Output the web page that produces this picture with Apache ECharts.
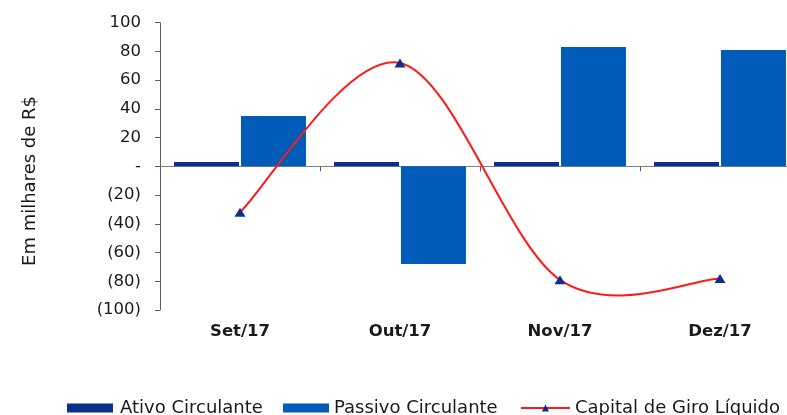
<!DOCTYPE html>
<html>
<head>
<meta charset="utf-8">
<script src="https://cdn.jsdelivr.net/npm/echarts@6/dist/echarts.min.js"></script>
<style>
html,body{margin:0;padding:0;background:#fff;}
#chart{width:787px;height:415px;}
</style>
</head>
<body>
<div id="chart"></div>
<script>
var categories = ['Set/17', 'Out/17', 'Nov/17', 'Dez/17'];
var ativoCirculante = [3, 3, 3, 3];
var passivoCirculante = [35, -68, 83, 81];
var capitalGiroLiquido = [-32, 72, -79, -78];
var seriesNames = ['Ativo Circulante', 'Passivo Circulante', 'Capital de Giro Líquido'];
var yAxisTitle = 'Em milhares de R$';

var FONT = 'DejaVu Sans';
var RED = '#ff1a1a';
var chart = echarts.init(document.getElementById('chart'), null, {renderer: 'canvas'});

function fmt(v) {
  if (v === 0) return '-';
  if (v < 0) return '(' + Math.abs(v) + ')';
  return String(v);
}

// Excel-like smoothed line (Catmull-Rom bezier), positions from the library's scales
function renderSmooth(params, api) {
  var pts = capitalGiroLiquido.map(function (v, i) { return api.coord([i, v]); });
  var n = pts.length;
  var d = 'M' + pts[0][0] + ' ' + pts[0][1];
  for (var i = 0; i < n - 1; i++) {
    var p0 = pts[i - 1] || pts[i];
    var p1 = pts[i];
    var p2 = pts[i + 1];
    var p3 = pts[i + 2] || pts[i + 1];
    var c1x = p1[0] + (p2[0] - p0[0]) / 6, c1y = p1[1] + (p2[1] - p0[1]) / 6;
    var c2x = p2[0] - (p3[0] - p1[0]) / 6, c2y = p2[1] - (p3[1] - p1[1]) / 6;
    d += ' C' + c1x + ' ' + c1y + ' ' + c2x + ' ' + c2y + ' ' + p2[0] + ' ' + p2[1];
  }
  return {
    type: 'path',
    shape: {pathData: d},
    style: {fill: null, stroke: RED, lineWidth: 2}
  };
}

function legendAt(left, itemWidth, item, gapPad) {
  return {
    left: left, top: 394,
    itemWidth: itemWidth, itemHeight: 9,
    selectedMode: false,
    textStyle: {fontFamily: FONT, fontSize: 18, color: '#1a1a1a', padding: [0, 0, 0, gapPad]},
    data: [item]
  };
}

chart.setOption({
  animation: false,
  backgroundColor: '#ffffff',
  textStyle: {fontFamily: FONT},
  grid: {left: 160, right: -13, top: 22.7, bottom: 105, containLabel: false, outerBoundsMode: 'none'},
  legend: [
    legendAt(62, 46, {name: seriesNames[0], icon: 'rect'}, 2),
    legendAt(278, 46, {name: seriesNames[1], icon: 'rect'}, 0),
    legendAt(515, 49, {name: seriesNames[2], lineStyle: {color: RED, width: 2, opacity: 1}}, 0)
  ],
  graphic: [{
    type: 'text',
    x: 30, y: 181,
    rotation: Math.PI / 2,
    style: {
      text: yAxisTitle,
      font: '18px "DejaVu Sans"',
      fill: '#1a1a1a',
      align: 'center',
      verticalAlign: 'middle'
    }
  }],
  xAxis: [{
    type: 'category',
    data: categories,
    position: 'bottom',
    axisLine: {show: false, onZero: false},
    axisTick: {show: false},
    axisLabel: {fontFamily: FONT, fontSize: 16.5, fontWeight: 'bold', color: '#1a1a1a', margin: 13}
  }, {
    type: 'category',
    data: categories,
    position: 'top',
    axisLine: {show: true, onZero: true, lineStyle: {color: '#808080', width: 1}},
    axisTick: {show: true, inside: true, length: 5, lineStyle: {color: '#606060'}},
    axisLabel: {show: false}
  }],
  yAxis: {
    type: 'value',
    min: -100, max: 100, interval: 20,
    axisLine: {show: true, lineStyle: {color: '#606060', width: 1}},
    axisTick: {show: true, length: 5, lineStyle: {color: '#606060'}},
    splitLine: {show: false},
    axisLabel: {fontFamily: FONT, fontSize: 16.5, color: '#1a1a1a', margin: 19, formatter: fmt}
  },
  series: [{
    name: seriesNames[0],
    type: 'bar',
    data: ativoCirculante,
    barWidth: 65,
    barGap: '3%',
    itemStyle: {color: '#0a2f8c'}
  }, {
    name: seriesNames[1],
    type: 'bar',
    data: passivoCirculante,
    barWidth: 65,
    barGap: '3%',
    itemStyle: {color: '#005cb8'}
  }, {
    name: 'curve',
    type: 'custom',
    data: [0],
    silent: true,
    renderItem: renderSmooth,
    z: 4
  }, {
    name: seriesNames[2],
    type: 'line',
    data: capitalGiroLiquido,
    symbol: 'triangle',
    symbolSize: [11, 9],
    lineStyle: {opacity: 0},
    itemStyle: {color: '#102d8a'},
    z: 5
  }]
});
</script>
</body>
</html>
